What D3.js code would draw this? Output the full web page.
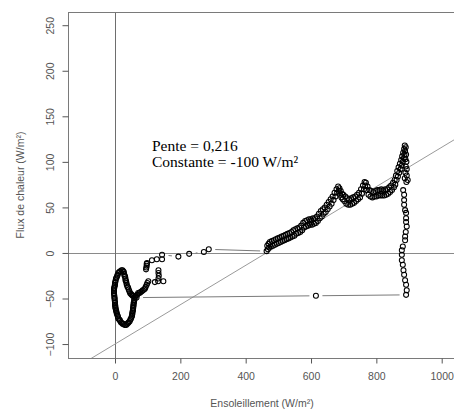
<!DOCTYPE html>
<html>
<head>
<meta charset="utf-8">
<script src="https://cdn.jsdelivr.net/npm/d3@7/dist/d3.min.js"></script>
<style>
  body { margin: 0; background: #fff; }
  svg { display: block; }
</style>
</head>
<body>
<svg width="454" height="412"></svg>
<script>
// mesures dans l'ordre du temps : [ensoleillement W/m², flux de chaleur W/m²]
var nuit = [
  [61,-48],[60,-49],[59,-51],[59,-52],[58,-54],[57,-55],[57,-57],[56,-58],[56,-60],[55,-61],
  [55,-63],[54,-64],[53,-66],[53,-67],[52,-69],[51,-70],[49,-72],[47,-73],[45,-75],[42,-76],
  [40,-77],[37,-78],[34,-79],[30,-79],[27,-78],[24,-78],[21,-77],[18,-76],[15,-74],[13,-73],
  [10,-72],[9,-70],[8,-69],[6,-67],[5,-66],[4,-64],[3,-63],[2,-61],[1,-60],[1,-58],
  [0,-57],[0,-55],[0,-54],[-1,-52],[-1,-50],[-2,-49],[-2,-47],[-3,-45],[-3,-44],[-3,-42],
  [-3,-41],[-3,-39],[-2,-38],[-1,-36],[0,-35],[0,-33],[1,-32],[2,-30],[3,-28],[5,-27],
  [7,-25],[8,-24],[10,-22],[13,-21],[16,-20],[20,-19],[23,-19],[25,-20],[27,-21],[28,-23],
  [29,-25],[31,-26],[32,-28],[32,-30],[34,-31],[35,-33],[36,-35],[38,-37],[40,-38],[42,-40],
  [44,-42],[46,-44],[49,-45],[51,-46],[54,-47],[57,-47]
];
var matin = [
  [64,-47],[68,-46],[71,-44],[75,-44],[78,-43],[82,-42],[85,-41],[89,-40],[92,-39],[94,-37],
  [97,-35],[99,-33],[102,-31],[122,-32],[132,-31],[148,-31],[133,-28],[134,-25],[133,-22],[133,-19],
  [95,-18],[96,-16],[97,-14],[97,-12],[98,-11],[113,-8],[128,-7],[144,-7],[144,-2],
  [194,-4],[227,-1],[272,1],[287,4]
];
var apresMidi = [
  [464,2],[466,8],[468,4],[470,10],[472,6],[474,12],[477,7],[480,13],[483,8],[486,14],
  [489,9],[492,15],[495,10],[498,16],[501,11],[504,17],[507,12],[510,18],[513,13],[516,19],
  [519,14],[522,20],[525,15],[528,21],[531,16],[534,22],[537,17],[540,23],[543,18],[546,25],
  [549,19],[552,26],[555,21],[558,27],[561,22],[564,28],[567,23],[570,30],[573,25],[576,33],
  [579,28],[582,35],[585,29],[588,36],[591,30],[594,37],[597,31],[600,37],[603,31],[606,38],
  [609,32],[612,38],[615,33],[618,40],[621,35],[624,43],[627,38],[630,46],[633,40],[636,48],
  [639,43],[642,50],[645,45],[648,53],[651,48],[654,56],[657,51],[660,59],[663,54],[666,62],
  [669,58],[672,66],[675,62],[678,70],[680,66],[683,73],[685,68],[687,71],[689,64],[691,68],
  [693,61],[695,65],[697,59],[699,64],[702,57],[705,62],[708,54],[711,60],[714,53],[717,59],
  [720,53],[723,60],[726,54],[729,61],[732,55],[735,62],[738,57],[741,64],[744,59],[747,66],
  [750,61],[753,70],[756,65],[759,74],[762,70],[764,78],[766,74],[768,77],[770,69],[773,73],
  [776,64],[779,69],[782,62],[785,68],[788,61],[791,67],[794,62],[797,68],[800,62],[803,69],
  [806,63],[809,69],[812,63],[815,70],[818,63],[821,69],[824,63],[827,70],[830,64],[833,70],
  [836,65],[839,72],[842,67],[845,74],[848,69],[851,77],[854,72],[856,80],[858,75],[860,85],
  [862,80],[864,90],[866,84],[868,94],[870,88],[872,98],[874,92],[876,102],[878,96],[879,106],
  [881,100],[882,110],[884,104],[885,114],[886,108],[887,118],[888,112],[890,116],[891,108],[889,103],
  [892,100],[890,95],[893,92],[889,88],[893,85],[887,82],[892,78],[896,80]
];
var soir = [
  [882,69],[885,64],[885,58],[885,53],[888,47],[891,44],[891,38],[891,34],[893,29],[890,23],
  [888,18],[888,14],[881,7],[878,3],[878,-2],[878,-8],[881,-13],[883,-19],[885,-24],[888,-30],
  [891,-35],[893,-41],[891,-46],[615,-47],[66,-49]
];
var xTicks = [0, 200, 400, 600, 800, 1000];
var yTicks = [-100, -50, 0, 50, 100, 150, 200, 250];
var pente = 0.216, constante = -100;
var annotations = ["Pente = 0,216", "Constante = -100 W/m²"];
var xTitre = "Ensoleillement (W/m²)";
var yTitre = "Flux de chaleur (W/m²)";

var serie = nuit.concat(matin, apresMidi, soir);

var gauche = 68, droite = 456, haut = 12, bas = 358;
var x = d3.scaleLinear().domain([-143.9, 1043.8]).range([gauche, droite]);
var y = d3.scaleLinear().domain([-115.3, 264.5]).range([bas, haut]);

var svg = d3.select('svg');

svg.append('clipPath').attr('id', 'zone')
  .append('rect')
  .attr('x', gauche).attr('y', haut)
  .attr('width', droite - gauche).attr('height', bas - haut);

var plot = svg.append('g').attr('clip-path', 'url(#zone)');

// droites h=0 et v=0
plot.append('line')
  .attr('x1', gauche).attr('x2', droite)
  .attr('y1', Math.round(y(0)) + 0.5).attr('y2', Math.round(y(0)) + 0.5)
  .style('stroke', '#8a8a8a');
plot.append('line')
  .attr('x1', Math.round(x(0)) + 0.5).attr('x2', Math.round(x(0)) + 0.5)
  .attr('y1', haut).attr('y2', bas)
  .style('stroke', '#6e6e6e');

// droite de regression
plot.append('line')
  .attr('x1', x(-200)).attr('y1', y(pente * -200 + constante))
  .attr('x2', x(1100)).attr('y2', y(pente * 1100 + constante))
  .style('stroke', '#9a9a9a')
  .style('stroke-width', 1);

// type "b" : segments coupes autour des points
var gap = 6.5;
var segs = [];
for (var i = 1; i < serie.length; i++) {
  var x1 = x(serie[i-1][0]), y1 = y(serie[i-1][1]);
  var x2 = x(serie[i][0]), y2 = y(serie[i][1]);
  var dx = x2 - x1, dy = y2 - y1, len = Math.sqrt(dx*dx + dy*dy);
  if (len > 2 * gap) {
    segs.push({x1: x1 + dx/len*gap, y1: y1 + dy/len*gap, x2: x2 - dx/len*gap, y2: y2 - dy/len*gap});
  }
}
plot.append('g')
  .selectAll('line')
  .data(segs)
  .enter().append('line')
  .attr('x1', function(d) { return d.x1; })
  .attr('y1', function(d) { return d.y1; })
  .attr('x2', function(d) { return d.x2; })
  .attr('y2', function(d) { return d.y2; })
  .style('stroke', '#7a7a7a');

plot.append('g')
  .selectAll('circle')
  .data(serie)
  .enter().append('circle')
  .attr('cx', function(d) { return x(d[0]); })
  .attr('cy', function(d) { return y(d[1]); })
  .attr('r', 2.5)
  .style('fill', 'none')
  .style('stroke', '#000')
  .style('stroke-width', 1.05);

// cadre
svg.append('rect')
  .attr('x', gauche + 0.5).attr('y', haut + 0.5)
  .attr('width', droite - gauche).attr('height', bas - haut)
  .style('fill', 'none')
  .style('stroke', '#7a7a7a');

var xAxis = svg.append('g')
  .attr('transform', 'translate(0,' + (bas + 0.5) + ')')
  .call(d3.axisBottom(x).tickValues(xTicks).tickFormat(d3.format('d'))
    .tickSize(5).tickSizeOuter(0).tickPadding(9));
var yAxis = svg.append('g')
  .attr('transform', 'translate(' + (gauche + 0.5) + ',0)')
  .call(d3.axisLeft(y).tickValues(yTicks).tickFormat(d3.format('d'))
    .tickSize(6).tickSizeOuter(0));

[xAxis, yAxis].forEach(function(a) {
  a.select('.domain').remove();
  a.selectAll('line').style('stroke', '#555');
  a.selectAll('text')
    .style('font-family', 'Liberation Sans, Arial, sans-serif')
    .style('font-size', '10.5px')
    .style('fill', '#555');
});

yAxis.selectAll('.tick text')
  .attr('x', null).attr('dy', null)
  .attr('transform', 'translate(-19,0) rotate(-90)')
  .attr('text-anchor', 'middle')
  .attr('dominant-baseline', 'central');

svg.append('text')
  .attr('x', (gauche + droite) / 2).attr('y', 407)
  .attr('text-anchor', 'middle')
  .style('font-family', 'Liberation Sans, Arial, sans-serif')
  .style('font-size', '10.5px')
  .style('fill', '#555')
  .text(xTitre);

svg.append('text')
  .attr('transform', 'translate(24,' + ((haut + bas) / 2) + ') rotate(-90)')
  .attr('text-anchor', 'middle')
  .style('font-family', 'Liberation Sans, Arial, sans-serif')
  .style('font-size', '10.5px')
  .style('fill', '#555')
  .text(yTitre);

svg.append('g')
  .selectAll('text')
  .data(annotations)
  .enter().append('text')
  .attr('x', 152)
  .attr('y', function(d, i) { return 151 + i * 16; })
  .style('font-family', 'Liberation Serif, Times New Roman, serif')
  .style('font-size', '15.5px')
  .style('fill', '#000')
  .text(function(d) { return d; });
</script>
</body>
</html>
